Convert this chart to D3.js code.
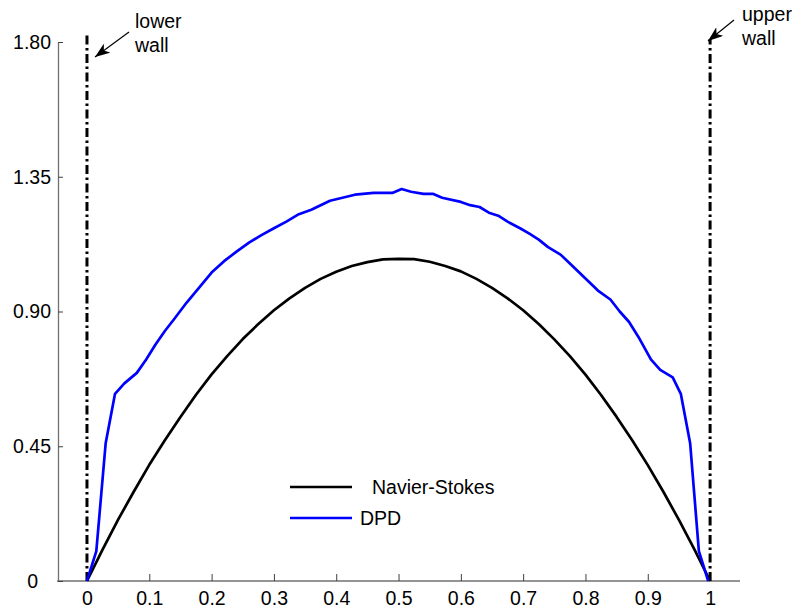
<!DOCTYPE html>
<html>
<head>
<meta charset="utf-8">
<script src="https://cdn.jsdelivr.net/npm/d3@7"></script>
<style>
  html, body { margin: 0; padding: 0; background: #fff; }
  svg { display: block; font-family: "Liberation Sans", Arial, sans-serif; }
</style>
</head>
<body>
<svg id="chart" width="792" height="608"></svg>
<script>
// Channel position (0 = lower wall, 1 = upper wall) and velocity profiles
const nsX = [0, 0.025, 0.05, 0.075, 0.1, 0.125, 0.15, 0.175, 0.2, 0.225, 0.25, 0.275, 0.3, 0.325, 0.35, 0.375, 0.4, 0.425, 0.45, 0.475, 0.5,
             0.525, 0.55, 0.575, 0.6, 0.625, 0.65, 0.675, 0.7, 0.725, 0.75, 0.775, 0.8, 0.825, 0.85, 0.875, 0.9, 0.925, 0.95, 0.975, 1];
const nsU = [0, 0.105, 0.205, 0.298, 0.388, 0.470, 0.548, 0.622, 0.690, 0.751, 0.808, 0.858, 0.904, 0.944, 0.979, 1.009, 1.033, 1.052, 1.065, 1.074, 1.076,
             1.075, 1.066, 1.052, 1.034, 1.009, 0.979, 0.944, 0.904, 0.858, 0.807, 0.751, 0.689, 0.621, 0.548, 0.470, 0.387, 0.298, 0.204, 0.105, 0];

const dpdX = [0, 0.015, 0.03, 0.045, 0.06, 0.08, 0.095, 0.11, 0.125, 0.14, 0.16, 0.18, 0.2, 0.22, 0.24, 0.26, 0.28, 0.3, 0.32, 0.34, 0.36,
              0.375, 0.39, 0.41, 0.43, 0.46, 0.49, 0.505, 0.52, 0.54, 0.555, 0.57, 0.6, 0.615, 0.63, 0.645, 0.66, 0.675, 0.695, 0.71, 0.725,
              0.74, 0.76, 0.775, 0.79, 0.805, 0.82, 0.84, 0.855, 0.87, 0.885, 0.905, 0.92, 0.94, 0.953, 0.968, 0.982, 0.997];
const dpdU = [0, 0.10, 0.46, 0.625, 0.66, 0.695, 0.74, 0.79, 0.835, 0.875, 0.93, 0.98, 1.03, 1.068, 1.10, 1.13, 1.155, 1.178, 1.20, 1.225, 1.24,
              1.255, 1.27, 1.28, 1.29, 1.296, 1.296, 1.309, 1.30, 1.293, 1.293, 1.28, 1.266, 1.255, 1.249, 1.23, 1.22, 1.20, 1.178, 1.16, 1.14,
              1.115, 1.09, 1.06, 1.03, 1.0, 0.97, 0.94, 0.90, 0.865, 0.815, 0.74, 0.705, 0.68, 0.625, 0.46, 0.10, 0];

const xTicks = [0, 0.1, 0.2, 0.3, 0.4, 0.5, 0.6, 0.7, 0.8, 0.9, 1];
const xTickLabels = ["0", "0.1", "0.2", "0.3", "0.4", "0.5", "0.6", "0.7", "0.8", "0.9", "1"];
const yTicks = [0, 0.45, 0.9, 1.35, 1.8];
const yTickLabels = ["0", "0.45", "0.90", "1.35", "1.80"];

// Wall positions and the heights their dash-dot markers reach
const wallX = [0, 1];
const wallTop = [1.83, 1.81];

const seriesNames = ["Navier-Stokes", "DPD"];
const seriesColors = ["#000000", "#0000ff"];

const FONT = "19.5px";
const svg = d3.select("#chart");
const plot = { left: 58, right: 740, top: 42, bottom: 581 };

const x = d3.scaleLinear().domain([-0.0465, 1.048]).range([plot.left, plot.right]);
const y = d3.scaleLinear().domain([0, 1.8]).range([plot.bottom, plot.top]);

// Axes: MATLAB-style, ticks pointing into the plot, grey axis lines
const xAxis = d3.axisBottom(x)
  .tickValues(xTicks)
  .tickFormat((d, i) => xTickLabels[i])
  .tickSizeInner(-7).tickSizeOuter(0).tickPadding(10);
const gx = svg.append("g").attr("transform", `translate(0,${plot.bottom})`).call(xAxis);

const yAxis = d3.axisLeft(y)
  .tickValues(yTicks)
  .tickFormat((d, i) => yTickLabels[i])
  .tickSizeInner(-5).tickSizeOuter(0).tickPadding(7);
const gy = svg.append("g").attr("transform", `translate(${plot.left},0)`).call(yAxis);

[gx, gy].forEach(g => {
  g.select(".domain").attr("stroke", "#707070").attr("stroke-width", 1.3);
  g.selectAll(".tick line").attr("stroke", "#404040").attr("stroke-width", 1);
  g.selectAll(".tick text").attr("fill", "#000").style("font-size", FONT)
    .style("font-family", "'Liberation Sans', Arial, sans-serif");
});
// extend x axis line to the full plot width
gx.select(".domain").attr("d", `M${plot.left - 1},0H${plot.right}`);
// hide the x tick mark that sits under the lower wall
gx.selectAll(".tick").filter(d => d === 0).select("line").remove();
// the zero label on the y axis sits a little further left
gy.selectAll(".tick").filter(d => d === 0).select("text").attr("x", -20);

// Wall markers (dash-dot)
svg.append("g").selectAll("line").data(wallX).join("line")
  .attr("x1", d => x(d)).attr("x2", d => x(d))
  .attr("y1", y(0)).attr("y2", (d, i) => y(wallTop[i]))
  .attr("stroke", "#000").attr("stroke-width", 3)
  .attr("stroke-dasharray", "9,3.5,2.5,3.5");

// Profiles
const line = d3.line().x(d => x(d[0])).y(d => y(d[1]));
const nsData = nsX.map((v, i) => [v, nsU[i]]);
const dpdData = dpdX.map((v, i) => [v, dpdU[i]]);

svg.append("path").datum(nsData)
  .attr("d", line).attr("fill", "none")
  .attr("stroke", seriesColors[0]).attr("stroke-width", 2.7).attr("stroke-linejoin", "round");
svg.append("path").datum(dpdData)
  .attr("d", line).attr("fill", "none")
  .attr("stroke", seriesColors[1]).attr("stroke-width", 2.7).attr("stroke-linejoin", "round");

// Annotations with arrows
const defs = svg.append("defs");
defs.append("marker").attr("id", "arrowhead")
  .attr("viewBox", "0 0 15 11").attr("refX", 15).attr("refY", 5.5)
  .attr("markerWidth", 15).attr("markerHeight", 11)
  .attr("markerUnits", "userSpaceOnUse").attr("orient", "auto")
  .append("path").attr("d", "M0,0 L15,5.5 L0,11 L4,5.5 Z").attr("fill", "#000");

const annotations = [
  { lines: ["lower", "wall"], tx: 135, ty: 28, from: [129, 32], to: [95, 57] },
  { lines: ["upper", "wall"], tx: 742, ty: 21, from: [734, 20], to: [708, 41] }
];
annotations.forEach(a => {
  svg.append("line")
    .attr("x1", a.from[0]).attr("y1", a.from[1])
    .attr("x2", a.to[0]).attr("y2", a.to[1])
    .attr("stroke", "#000").attr("stroke-width", 1.2)
    .attr("marker-end", "url(#arrowhead)");
  const t = svg.append("text").attr("x", a.tx).attr("y", a.ty)
    .style("font-size", FONT).attr("fill", "#000");
  a.lines.forEach((s, i) => {
    t.append("tspan").attr("x", a.tx).attr("dy", i === 0 ? 0 : 24).text(s);
  });
});

// Legend
const legend = [
  { name: seriesNames[0], color: seriesColors[0], ly: 487, tx: 372 },
  { name: seriesNames[1], color: seriesColors[1], ly: 518, tx: 360 }
];
const lg = svg.append("g");
legend.forEach(l => {
  lg.append("line").attr("x1", 290).attr("x2", 352).attr("y1", l.ly).attr("y2", l.ly)
    .attr("stroke", l.color).attr("stroke-width", 2.7);
  lg.append("text").attr("x", l.tx).attr("y", l.ly + 7)
    .style("font-size", FONT).attr("fill", "#000").text(l.name);
});
</script>
</body>
</html>
